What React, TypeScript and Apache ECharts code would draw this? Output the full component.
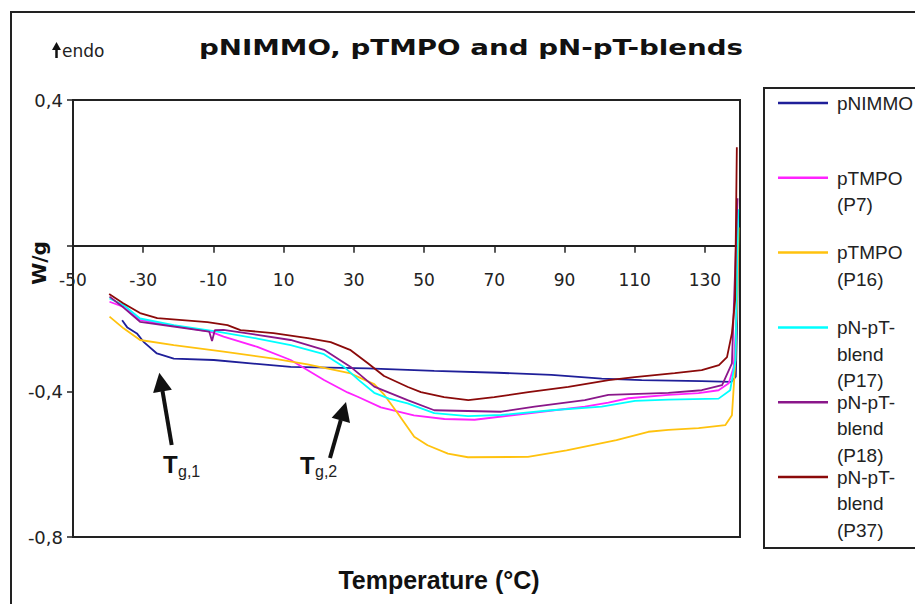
import React, { useEffect, useRef } from "react";
import * as echarts from "echarts";

// ---- data (temperature °C, heat flow W/g) ----
const seriesNames = [
  "pNIMMO",
  "pTMPO (P7)",
  "pTMPO (P16)",
  "pN-pT-blend (P17)",
  "pN-pT-blend (P18)",
  "pN-pT-blend (P37)",
];
const seriesColors = ["#1f1f99", "#ff22ff", "#ffc20e", "#00ffff", "#8a178a", "#8b0a0a"];

const pNIMMO = [
  [-36, -0.205], [-34.5, -0.225], [-31.8, -0.241], [-29.9, -0.264], [-26.1, -0.296],
  [-21.3, -0.31], [-9.9, -0.314], [0.6, -0.323], [12, -0.333], [33.9, -0.337],
  [52.9, -0.344], [71, -0.349], [86.3, -0.355], [100.6, -0.365], [112, -0.369],
  [129.1, -0.372], [137.5, -0.374], [138.8, -0.36], [139.2, -0.2], [139.4, -0.02],
];
const pTMPO_P7 = [
  [-39.6, -0.154], [-35.6, -0.168], [-30.9, -0.204], [-26.1, -0.213], [-10.9, -0.236],
  [-7.1, -0.25], [2.5, -0.278], [12, -0.314], [21.5, -0.369], [28.2, -0.403],
  [31.1, -0.415], [37.7, -0.444], [47.1, -0.466], [55.8, -0.476], [64.4, -0.478],
  [75.7, -0.465], [85.3, -0.454], [95.8, -0.442], [102.5, -0.431], [108.2, -0.419],
  [119.6, -0.41], [128.2, -0.405], [133.9, -0.397], [136.8, -0.378], [138.2, -0.333],
  [139.0, -0.2], [139.4, 0.0],
];
const pTMPO_P16 = [
  [-39.6, -0.195], [-35.6, -0.227], [-30.9, -0.259], [-21.3, -0.273], [-7.1, -0.291],
  [7.2, -0.31], [16.8, -0.326], [29.1, -0.351], [32.9, -0.368], [35.8, -0.38],
  [38.7, -0.41], [42.5, -0.46], [47.2, -0.525], [51, -0.548], [56.8, -0.571],
  [62.5, -0.581], [79.6, -0.58], [90.6, -0.562], [104.8, -0.534], [113.9, -0.511],
  [119.6, -0.506], [128.2, -0.501], [135.8, -0.493], [137.7, -0.466], [138.7, -0.314],
  [139.3, -0.1], [139.6, 0.05],
];
const blend_P17 = [
  [-39.6, -0.145], [-35.6, -0.163], [-30.9, -0.2], [-21.3, -0.218], [-8.9, -0.236],
  [2.5, -0.255], [12, -0.273], [21.5, -0.298], [27.2, -0.333], [31.5, -0.37],
  [35.8, -0.404], [40, -0.42], [45.3, -0.433], [52.9, -0.46], [62.5, -0.468],
  [72, -0.465], [86.3, -0.452], [100.6, -0.442], [110.1, -0.426], [119.6, -0.423],
  [133.9, -0.42], [137.2, -0.397], [138.7, -0.314], [139.5, 0.1],
];
const blend_P18 = [
  [-39.6, -0.14], [-35.6, -0.17], [-30.9, -0.209], [-21.3, -0.222], [-11.2, -0.236],
  [-10.4, -0.262], [-9.6, -0.232], [-7.1, -0.231], [2.5, -0.245], [12, -0.259],
  [21.5, -0.286], [29.1, -0.333], [35.8, -0.387], [45.3, -0.424], [52.9, -0.452],
  [72, -0.456], [81.5, -0.442], [95.8, -0.424], [102.5, -0.41], [119.6, -0.404],
  [129.1, -0.397], [134.9, -0.383], [137.7, -0.323], [139.3, 0.13],
];
const blend_P37 = [
  [-39.7, -0.133], [-35.7, -0.158], [-30.9, -0.185], [-26, -0.199], [-11.7, -0.21],
  [-6, -0.218], [-2.3, -0.232], [7.1, -0.24], [16.9, -0.254], [23.4, -0.265],
  [29.1, -0.287], [34, -0.323], [38.6, -0.358], [45.4, -0.388], [49.1, -0.402],
  [55.7, -0.416], [62.6, -0.424], [70, -0.416], [79.7, -0.402], [91.1, -0.388],
  [102.6, -0.369], [110, -0.361], [121.4, -0.35], [129.1, -0.342], [134, -0.328],
  [136.3, -0.306], [137.7, -0.24], [138.6, -0.15], [139.1, 0.27],
];
const seriesData = [pNIMMO, pTMPO_P7, pTMPO_P16, blend_P17, blend_P18, blend_P37];

const xMin = -50;
const xMax = 140;
const xStep = 20;
const yMin = -0.8;
const yMax = 0.4;
const yStep = 0.4;

const titleText = "pNIMMO, pTMPO and pN-pT-blends";
const xName = "Temperature (°C)";
const yName = "W/g";

const GRID_TOP = 100;
const GRID_BOTTOM = 67;
const CHART_H = 604;

export default function App() {
  const ref = useRef<HTMLDivElement>(null);

  useEffect(() => {
    if (!ref.current) return;
    const chart = echarts.init(ref.current, null, { renderer: "svg" });

    // vertical pixel distance from the grid bottom to the value 0 (x axis crosses there)
    const gridH = CHART_H - GRID_TOP - GRID_BOTTOM;
    const zeroFromBottom = ((0 - yMin) / (yMax - yMin)) * gridH;

    const legendItems: any[] = [];
    seriesNames.forEach((name, i) => {
      const cy = 103 + i * 74.8;
      legendItems.push({
        type: "line",
        shape: { x1: 778, y1: cy, x2: 828, y2: cy },
        style: { stroke: seriesColors[i], lineWidth: 2.5 },
      });
      legendItems.push({
        type: "text",
        x: 837,
        y: cy - 13,
        style: {
          text: name.replace(" ", "\n").replace("pT-b", "pT-\nb"),
          font: "19px 'Liberation Sans'",
          lineHeight: 26.5,
          fill: "#222",
          align: "left",
          verticalAlign: "top",
        },
      });
    });

    const option: any = {
      animation: false,
      backgroundColor: "#fff",
      grid: {
        left: 73,
        right: 175,
        top: GRID_TOP,
        bottom: GRID_BOTTOM,
        show: true,
        borderColor: "#222",
        borderWidth: 2,
        backgroundColor: "transparent",
        containLabel: false,
        outerBoundsMode: "none",
      },
      xAxis: {
        type: "value",
        min: xMin,
        max: xMax,
        interval: xStep,
        position: "bottom",
        offset: -zeroFromBottom,
        axisLine: { show: true, onZero: false, lineStyle: { color: "#222", width: 2 } },
        axisTick: { show: true, length: 7, lineStyle: { color: "#222", width: 1.5 } },
        axisLabel: {
          margin: 26,
          fontFamily: "DejaVu Sans",
          fontSize: 17,
          color: "#222",
          formatter: (v: number) => (v === xMax ? "" : String(v)),
        },
        splitLine: { show: false },
      },
      yAxis: {
        type: "value",
        min: yMin,
        max: yMax,
        interval: yStep,
        position: "left",
        axisLine: { show: true, onZero: false, lineStyle: { color: "#222", width: 2 } },
        axisTick: { show: true, length: 6, lineStyle: { color: "#222", width: 1.5 } },
        axisLabel: {
          margin: 10,
          fontFamily: "DejaVu Sans",
          fontSize: 18,
          color: "#222",
          formatter: (v: number) =>
            Math.abs(v) < 1e-9 ? "" : v.toFixed(1).replace(".", ","),
        },
        splitLine: { show: false },
      },
      series: seriesNames.map((name, i) => ({
        name,
        type: "line",
        data: seriesData[i],
        showSymbol: false,
        symbol: "none",
        lineStyle: { color: seriesColors[i], width: 1.8 },
        itemStyle: { color: seriesColors[i] },
        z: 3 + i,
      })),
      graphic: [
        {
          type: "rect",
          shape: { x: 11, y: 12, width: 1000, height: 1000 },
          style: { fill: "none", stroke: "#222", lineWidth: 2 },
          silent: true,
        },
        {
          type: "text",
          x: 471,
          y: 48,
          scaleX: 1.32,
          style: {
            text: titleText,
            font: "bold 21px 'DejaVu Sans'",
            fill: "#111",
            align: "center",
            verticalAlign: "middle",
          },
        },
        // "endo" direction arrow
        {
          type: "line",
          shape: { x1: 56.5, y1: 58, x2: 56.5, y2: 48 },
          style: { stroke: "#111", lineWidth: 2.5 },
        },
        {
          type: "polygon",
          shape: { points: [[56.5, 42], [61, 50], [52, 50]] },
          style: { fill: "#111" },
        },
        {
          type: "text",
          x: 62,
          y: 51,
          style: {
            text: "endo",
            font: "17px 'DejaVu Sans'",
            fill: "#222",
            align: "left",
            verticalAlign: "middle",
          },
        },
        {
          type: "text",
          x: 39,
          y: 263,
          rotation: Math.PI / 2,
          style: {
            text: yName,
            font: "bold 20px 'DejaVu Sans'",
            fill: "#111",
            align: "center",
            verticalAlign: "middle",
          },
        },
        {
          type: "text",
          x: 439,
          y: 580,
          style: {
            text: xName,
            font: "bold 25px 'Liberation Sans'",
            fill: "#111",
            align: "center",
            verticalAlign: "middle",
          },
        },
        // legend box
        {
          type: "rect",
          shape: { x: 764, y: 88, width: 300, height: 460 },
          style: { fill: "#fff", stroke: "#222", lineWidth: 2 },
        },
        ...legendItems,
        // Tg,1 arrow
        {
          type: "polyline",
          shape: { points: [[171.7, 445], [162.5, 391]] },
          style: { stroke: "#111", lineWidth: 4, fill: "none" },
        },
        {
          type: "polygon",
          shape: { points: [[159.3, 372.7], [171.9, 389.8], [153.1, 393.0]] },
          style: { fill: "#111" },
        },
        {
          type: "text",
          x: 163,
          y: 464,
          style: { text: "T", font: "bold 24px 'Liberation Sans'", fill: "#111", align: "left", verticalAlign: "middle" },
        },
        {
          type: "text",
          x: 178,
          y: 471,
          style: { text: "g,1", font: "16px 'Liberation Sans'", fill: "#222", align: "left", verticalAlign: "middle" },
        },
        // Tg,2 arrow
        {
          type: "polyline",
          shape: { points: [[330, 458], [340.8, 420]] },
          style: { stroke: "#111", lineWidth: 4, fill: "none" },
        },
        {
          type: "polygon",
          shape: { points: [[346, 402], [350.0, 422.9], [331.7, 417.7]] },
          style: { fill: "#111" },
        },
        {
          type: "text",
          x: 300,
          y: 465,
          style: { text: "T", font: "bold 24px 'Liberation Sans'", fill: "#111", align: "left", verticalAlign: "middle" },
        },
        {
          type: "text",
          x: 315,
          y: 471,
          style: { text: "g,2", font: "16px 'Liberation Sans'", fill: "#222", align: "left", verticalAlign: "middle" },
        },
      ],
    };

    chart.setOption(option);
    return () => chart.dispose();
  }, []);

  return (
    <div
      ref={ref}
      style={{ position: "fixed", left: 0, top: 0, width: 915, height: 604, background: "#fff" }}
    />
  );
}
